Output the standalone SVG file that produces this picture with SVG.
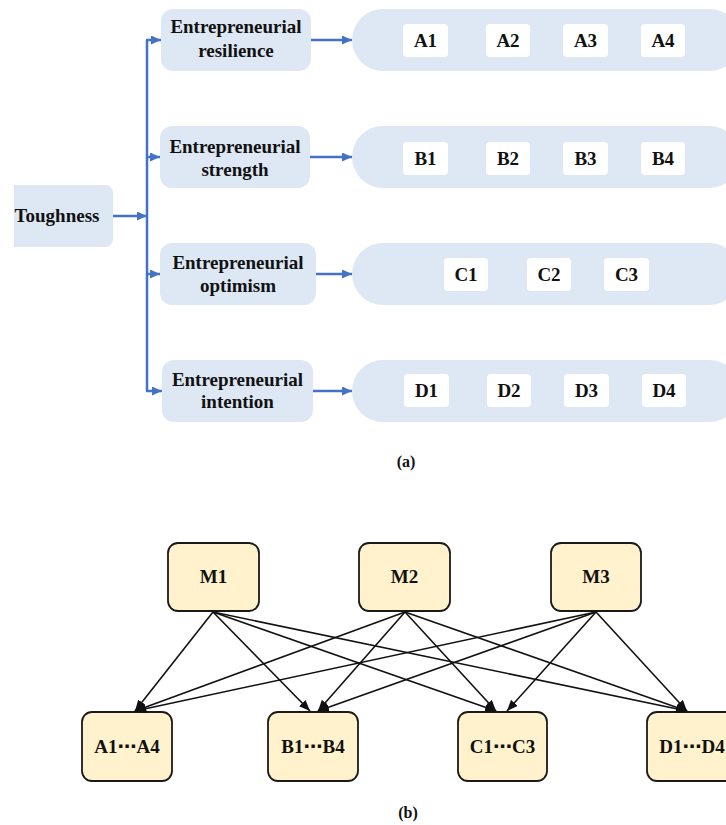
<svg xmlns="http://www.w3.org/2000/svg" width="726" height="825" viewBox="0 0 726 825">
  <style>
    .lbl { font-family: "Liberation Serif", "Times New Roman", serif; font-weight: bold; font-size: 19px; fill: #111; text-anchor: middle; }
    .cap { font-family: "Liberation Serif", "Times New Roman", serif; font-weight: bold; font-size: 16px; fill: #111; text-anchor: middle; }
    .dots { font-family: "Liberation Serif", "DejaVu Serif", "DejaVu Sans", serif; }
    .soft { fill: #DEE8F4; }
    .item { fill: #FFFFFF; }
    .blue { stroke: #4472C4; stroke-width: 2.5; fill: none; }
    .node { fill: #FFF2CC; stroke: #1A1A1A; stroke-width: 1.8; }
    .edge { stroke: #111; stroke-width: 1.6; fill: none; marker-end: url(#headK); }
  </style>
  <defs>
    <marker id="headB" markerUnits="userSpaceOnUse" markerWidth="10" markerHeight="9" refX="10" refY="4.5" orient="auto">
      <path d="M0,0 L10,4.5 L0,9 Z" fill="#4472C4"/>
    </marker>
    <marker id="headK" markerUnits="userSpaceOnUse" markerWidth="12" markerHeight="9" refX="11" refY="4.5" orient="auto">
      <path d="M0,0 L11,4.5 L0,9 Z" fill="#111"/>
    </marker>
  </defs>

  <!-- (a) hierarchy -->
  <g id="toughness">
    <path class="soft" d="M14,185 H105 A8,8 0 0 1 113,193 V239 A8,8 0 0 1 105,247 H14 Z"/>
    <text class="lbl" x="57" y="222">Toughness</text>
  </g>

  <g id="resilience">
    <rect class="soft" x="161" y="9" width="150" height="62" rx="12"/>
    <text class="lbl" x="236" y="33">Entrepreneurial</text>
    <text class="lbl" x="236" y="57">resilience</text>
  </g>
  <g id="strength">
    <rect class="soft" x="160" y="126" width="150" height="62" rx="12"/>
    <text class="lbl" x="235" y="153">Entrepreneurial</text>
    <text class="lbl" x="235" y="176">strength</text>
  </g>
  <g id="optimism">
    <rect class="soft" x="160" y="243" width="156" height="62" rx="12"/>
    <text class="lbl" x="238" y="269">Entrepreneurial</text>
    <text class="lbl" x="238" y="292">optimism</text>
  </g>
  <g id="intention">
    <rect class="soft" x="162" y="360" width="151" height="62" rx="12"/>
    <text class="lbl" x="237.5" y="386">Entrepreneurial</text>
    <text class="lbl" x="237.5" y="408">intention</text>
  </g>

  <g id="rowA">
    <rect class="soft" x="352" y="9" width="388" height="62" rx="31"/>
    <rect class="item" x="403" y="24" width="45" height="33" rx="4"/>
    <rect class="item" x="486" y="24" width="44" height="33" rx="4"/>
    <rect class="item" x="563" y="24" width="45" height="33" rx="4"/>
    <rect class="item" x="641" y="24" width="44" height="33" rx="4"/>
    <text class="lbl" x="425.5" y="47">A1</text>
    <text class="lbl" x="508" y="47">A2</text>
    <text class="lbl" x="585.5" y="47">A3</text>
    <text class="lbl" x="663" y="47">A4</text>
  </g>
  <g id="rowB">
    <rect class="soft" x="352" y="126" width="388" height="62" rx="31"/>
    <rect class="item" x="403" y="142" width="45" height="33" rx="4"/>
    <rect class="item" x="486" y="142" width="44" height="33" rx="4"/>
    <rect class="item" x="563" y="142" width="45" height="33" rx="4"/>
    <rect class="item" x="641" y="142" width="44" height="33" rx="4"/>
    <text class="lbl" x="425.5" y="165">B1</text>
    <text class="lbl" x="508" y="165">B2</text>
    <text class="lbl" x="585.5" y="165">B3</text>
    <text class="lbl" x="663" y="165">B4</text>
  </g>
  <g id="rowC">
    <rect class="soft" x="352" y="243" width="388" height="62" rx="31"/>
    <rect class="item" x="444" y="258" width="44" height="33" rx="4"/>
    <rect class="item" x="527" y="258" width="44" height="33" rx="4"/>
    <rect class="item" x="604" y="258" width="45" height="33" rx="4"/>
    <text class="lbl" x="466" y="281">C1</text>
    <text class="lbl" x="549" y="281">C2</text>
    <text class="lbl" x="626.5" y="281">C3</text>
  </g>
  <g id="rowD">
    <rect class="soft" x="352" y="360" width="388" height="62" rx="31"/>
    <rect class="item" x="404" y="374" width="45" height="33" rx="4"/>
    <rect class="item" x="487" y="374" width="44" height="33" rx="4"/>
    <rect class="item" x="564" y="374" width="45" height="33" rx="4"/>
    <rect class="item" x="642" y="374" width="44" height="33" rx="4"/>
    <text class="lbl" x="426.5" y="397">D1</text>
    <text class="lbl" x="509" y="397">D2</text>
    <text class="lbl" x="586.5" y="397">D3</text>
    <text class="lbl" x="664" y="397">D4</text>
  </g>

  <g id="tree-links">
    <line class="blue" x1="113" y1="216" x2="147" y2="216" marker-end="url(#headB)"/>
    <path class="blue" d="M147,40 V391"/>
    <line class="blue" x1="146" y1="40" x2="161" y2="40" marker-end="url(#headB)"/>
    <line class="blue" x1="146" y1="157" x2="160" y2="157" marker-end="url(#headB)"/>
    <line class="blue" x1="146" y1="274" x2="160" y2="274" marker-end="url(#headB)"/>
    <line class="blue" x1="146" y1="391" x2="162" y2="391" marker-end="url(#headB)"/>
    <line class="blue" x1="311" y1="40" x2="352" y2="40" marker-end="url(#headB)"/>
    <line class="blue" x1="310" y1="157" x2="352" y2="157" marker-end="url(#headB)"/>
    <line class="blue" x1="316" y1="274" x2="352" y2="274" marker-end="url(#headB)"/>
    <line class="blue" x1="313" y1="391" x2="352" y2="391" marker-end="url(#headB)"/>
  </g>

  <text class="cap" x="406" y="467">(a)</text>

  <!-- (b) bipartite mapping -->
  <g id="m1">
    <rect class="node" x="168" y="543" width="91" height="68" rx="10"/>
    <text class="lbl" x="213.5" y="583">M1</text>
  </g>
  <g id="m2">
    <rect class="node" x="359" y="543" width="91" height="68" rx="10"/>
    <text class="lbl" x="404.5" y="583">M2</text>
  </g>
  <g id="m3">
    <rect class="node" x="551" y="543" width="90" height="68" rx="10"/>
    <text class="lbl" x="596" y="583">M3</text>
  </g>

  <g id="groupA">
    <rect class="node" x="82" y="712" width="90" height="69" rx="10"/>
    <text class="lbl" x="127" y="753">A1<tspan class="dots">⋯</tspan>A4</text>
  </g>
  <g id="groupB">
    <rect class="node" x="268" y="712" width="90" height="69" rx="10"/>
    <text class="lbl" x="313" y="753">B1<tspan class="dots">⋯</tspan>B4</text>
  </g>
  <g id="groupC">
    <rect class="node" x="458" y="712" width="89" height="69" rx="10"/>
    <text class="lbl" x="502.5" y="753">C1<tspan class="dots">⋯</tspan>C3</text>
  </g>
  <g id="groupD">
    <rect class="node" x="647" y="712" width="90" height="69" rx="10"/>
    <text class="lbl" x="692" y="753">D1<tspan class="dots">⋯</tspan>D4</text>
  </g>

  <g id="mapping-links">
    <line class="edge" x1="213" y1="612" x2="135" y2="711"/>
    <line class="edge" x1="213" y1="612" x2="310" y2="711"/>
    <line class="edge" x1="213" y1="612" x2="496" y2="711"/>
    <line class="edge" x1="213" y1="612" x2="687" y2="711"/>
    <line class="edge" x1="405" y1="612" x2="135" y2="711"/>
    <line class="edge" x1="405" y1="612" x2="318" y2="711"/>
    <line class="edge" x1="405" y1="612" x2="496" y2="711"/>
    <line class="edge" x1="405" y1="612" x2="687" y2="711"/>
    <line class="edge" x1="596" y1="612" x2="135" y2="711"/>
    <line class="edge" x1="596" y1="612" x2="318" y2="711"/>
    <line class="edge" x1="596" y1="612" x2="507" y2="711"/>
    <line class="edge" x1="596" y1="612" x2="687" y2="711"/>
  </g>

  <text class="cap" x="408" y="818">(b)</text>
</svg>
